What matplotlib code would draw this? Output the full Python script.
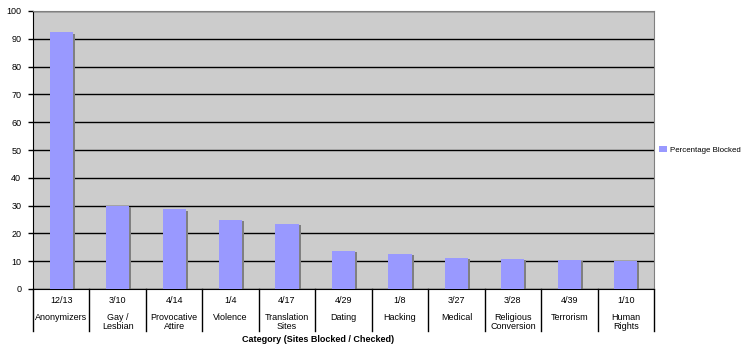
import numpy as np
import matplotlib.pyplot as plt
import matplotlib.transforms as mtransforms

plt.rcParams["font.family"] = ["Liberation Sans", "DejaVu Sans"]

ratios = ["12/13", "3/10", "4/14", "1/4", "4/17", "4/29", "1/8", "3/27", "3/28", "4/39", "1/10"]
categories = ["Anonymizers", "Gay /\nLesbian", "Provocative\nAttire", "Violence", "Translation\nSites",
              "Dating", "Hacking", "Medical", "Religious\nConversion", "Terrorism", "Human\nRights"]
percent_blocked = [92.3, 30.0, 28.6, 25.0, 23.5, 13.8, 12.5, 11.1, 10.7, 10.3, 10.0]

W, H = 750, 356
fs = 6.5
fig = plt.figure(figsize=(W / 100, H / 100), dpi=100)
left, right, top, bottom = 33, 654, 11, 289
ax = fig.add_axes([left / W, (H - bottom) / H, (right - left) / W, (bottom - top) / H])
ax.set_facecolor("#cccccc")

x = np.arange(len(categories))
bar_w = 0.41
shadow_dx = 2.0 / ((right - left) / len(categories))
ax.bar(x + shadow_dx, np.array(percent_blocked) - 0.4, width=bar_w, color="#808080", zorder=2)
ax.bar(x, percent_blocked, width=bar_w, color="#9999ff", zorder=3, label="Percentage Blocked")

ax.set_xlim(-0.5, len(categories) - 0.5)
ax.set_ylim(0, 100)
ax.set_yticks(np.arange(0, 101, 10))
ax.yaxis.grid(True, color="black", linewidth=1)
ax.set_axisbelow(True)
ax.tick_params(axis="y", labelsize=fs, length=3.5, pad=5, width=1)
ax.set_xticks([])

for s in ["top", "right"]:
    ax.spines[s].set_color("#808080")
ax.spines["left"].set_color("black")
ax.spines["bottom"].set_color("black")

trans = mtransforms.blended_transform_factory(ax.transData, ax.transAxes)
for i in range(len(categories)):
    ax.text(x[i], -0.043, ratios[i], transform=trans, ha="center", va="center", fontsize=fs)
    ax.text(x[i], -0.085, categories[i], transform=trans, ha="center", va="top", fontsize=fs,
            linespacing=1.1)
for b in np.arange(-0.5, len(categories), 1.0):
    ax.plot([b, b], [0, -0.152], transform=trans, color="black", linewidth=1, clip_on=False)

fig.text(318 / W, (H - 340) / H, "Category (Sites Blocked / Checked)", ha="center", va="center",
         fontsize=fs, fontweight="bold")

ax.legend(loc="center left", bbox_to_anchor=(655 / W, (H - 150) / H), bbox_transform=fig.transFigure,
          frameon=False, fontsize=5.7, handlelength=1.0, handleheight=0.8, handletextpad=0.4, borderpad=0)

fig.savefig("out.png", dpi=100)
